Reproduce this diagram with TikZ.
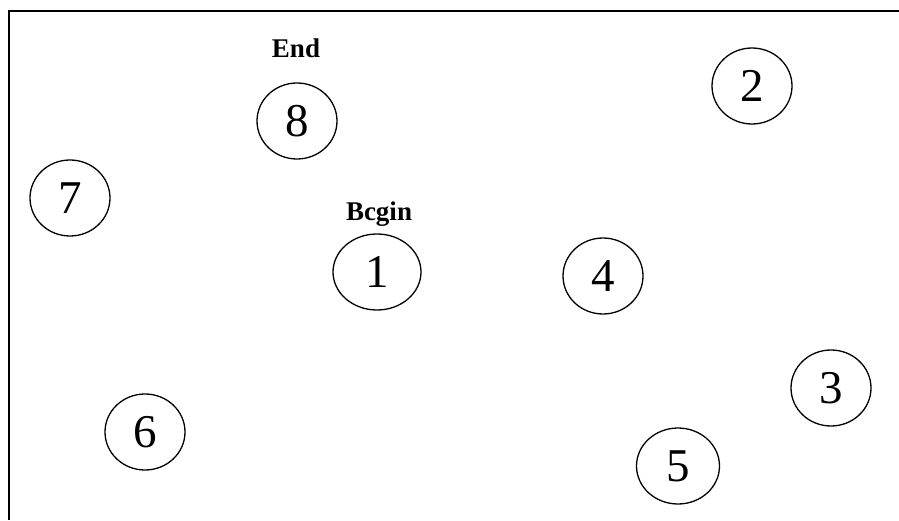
\documentclass[tikz,border=0pt]{standalone}
\usepackage{fontspec}
\setmainfont{Liberation Serif}
\usetikzlibrary{shapes.geometric}
\begin{document}
\begin{tikzpicture}[x=1pt,y=1pt,
  statenode/.style={draw, line width=1.3pt, ellipse, minimum width=80pt, minimum height=76pt, inner sep=0pt, font=\fontsize{47}{47}\selectfont},
  tag/.style={font=\bfseries\fontsize{27}{27}\selectfont}]
\useasboundingbox (0,0) rectangle (899,520);
\coordinate (fl) at (9,0);
\coordinate (fc) at (9,509);
\coordinate (fr) at (899,509);
\draw[line width=1.8pt] (fl) -- (fc) -- (fr);
\node[statenode] (n8) at (297,399) {8};
\node[statenode] (n2) at (752,434) {2};
\node[statenode] (n7) at (70,322) {7};
\node[statenode, minimum width=88pt] (n1) at (377,248) {1};
\node[statenode] (n4) at (603,244) {4};
\node[statenode] (n3) at (831,132) {3};
\node[statenode] (n6) at (145,88) {6};
\node[statenode, minimum width=83pt] (n5) at (678,54) {5};
\node[tag] (lend) at (296,472) {End};
\node[tag] (lbegin) at (379,306) {Bcgin};
\end{tikzpicture}
\end{document}
